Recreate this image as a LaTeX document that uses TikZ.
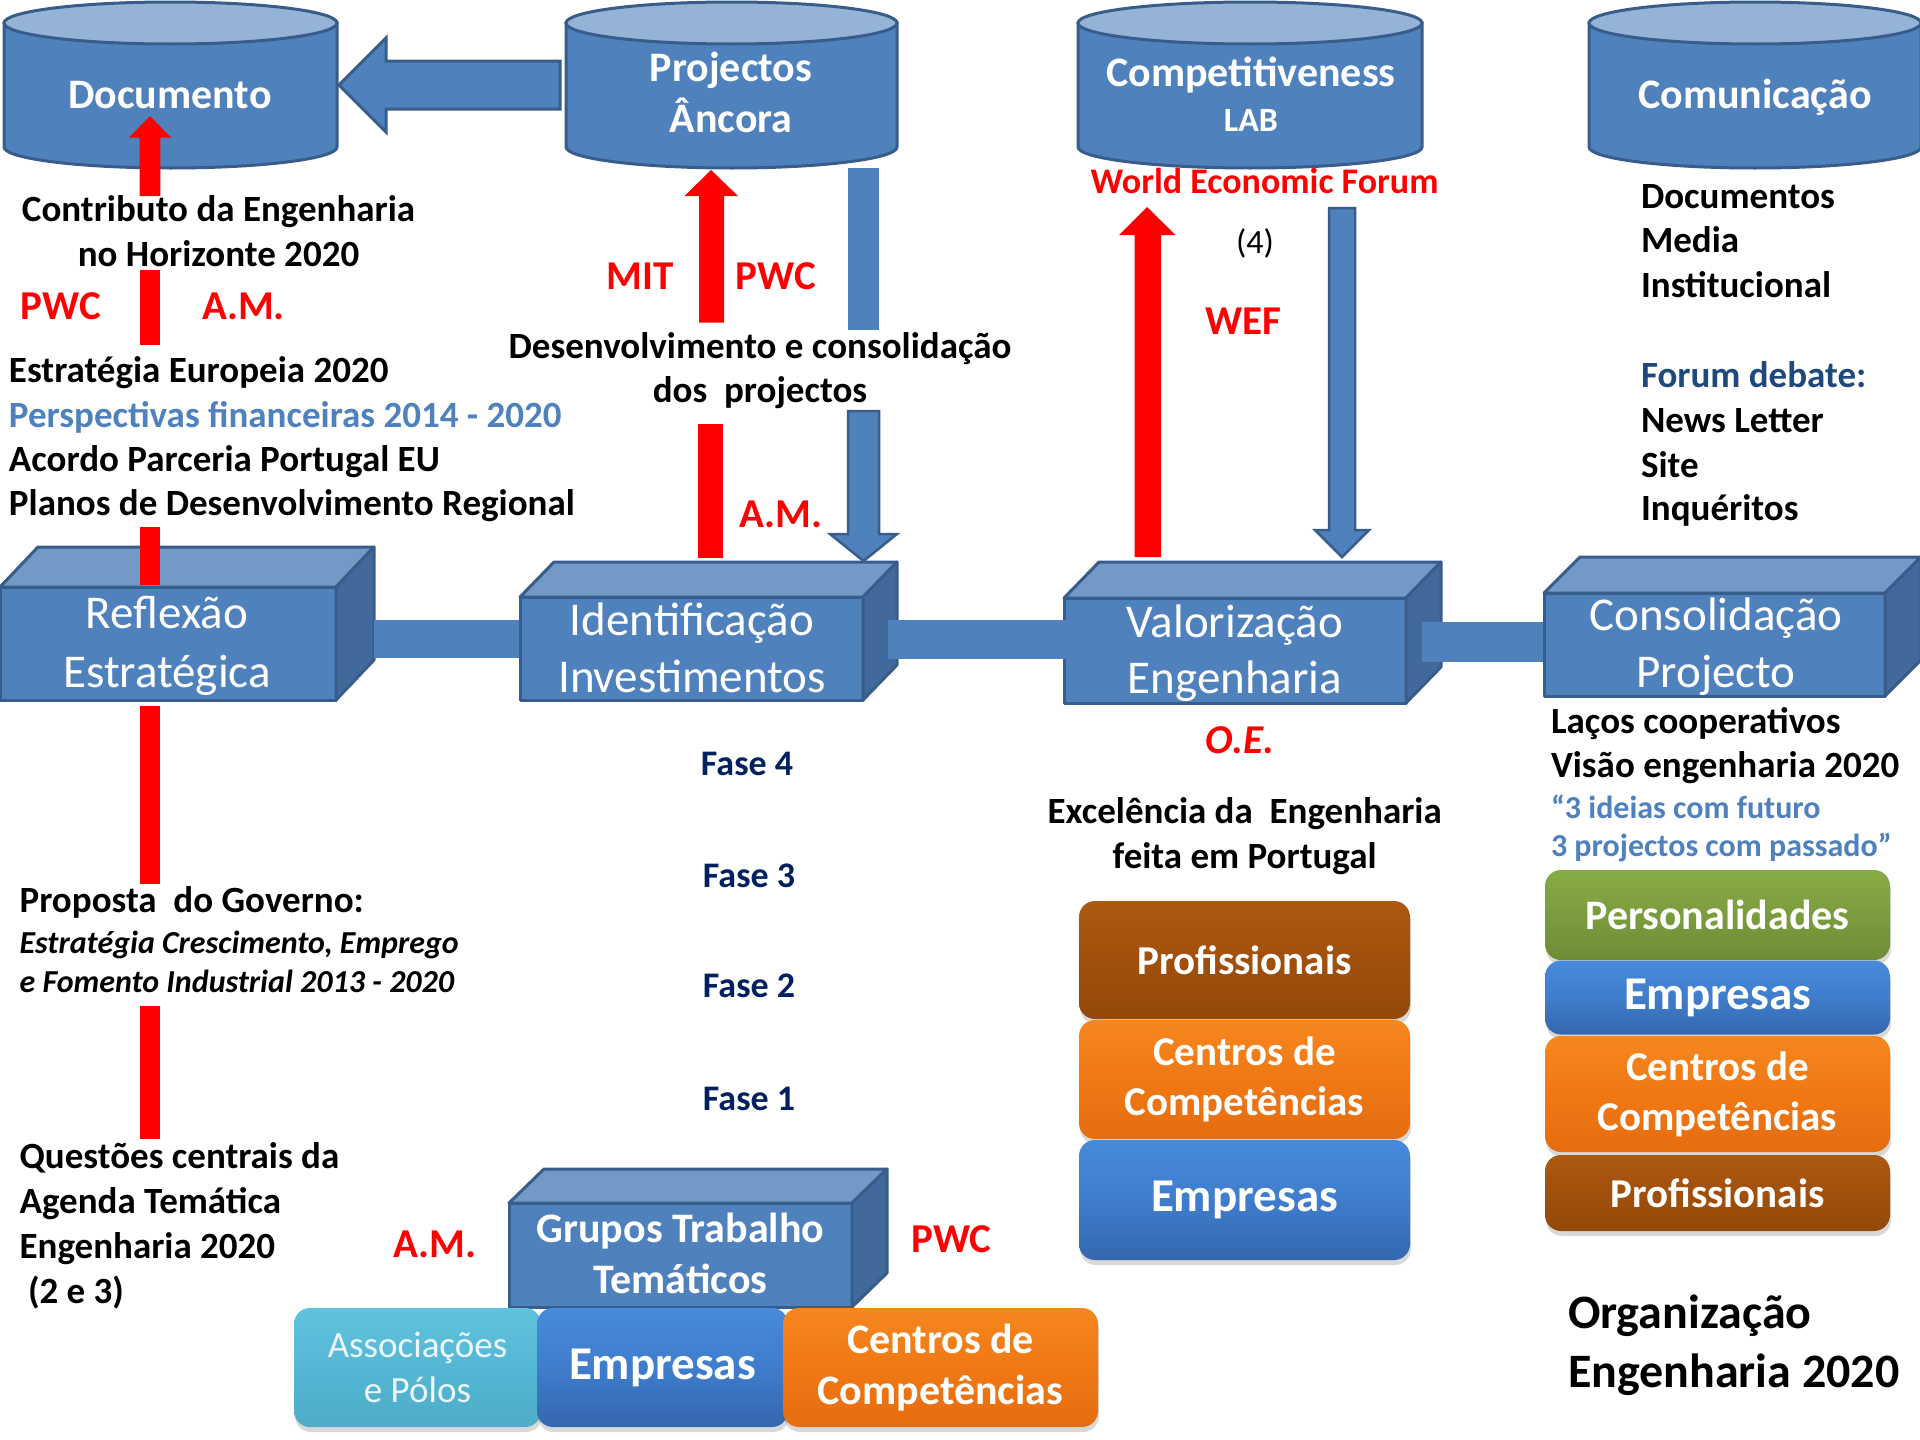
\documentclass[tikz,border=0pt]{standalone}
\usepackage{fontspec}
\setmainfont{Carlito}
\usetikzlibrary{shadows}
\definecolor{cblue}{HTML}{4F81BD}
\definecolor{cline}{HTML}{385D8A}
\definecolor{ctop}{HTML}{95B3D7}
\definecolor{btop}{HTML}{7399C6}
\definecolor{bside}{HTML}{41699C}
\definecolor{navy}{HTML}{002060}
\definecolor{fblue}{HTML}{1F497D}
\definecolor{brA}{HTML}{AC5A12}\definecolor{brB}{HTML}{A0500C}\definecolor{brC}{HTML}{94490A}
\definecolor{orA}{HTML}{F6871F}\definecolor{orB}{HTML}{F07814}\definecolor{orC}{HTML}{E66D10}
\definecolor{blA}{HTML}{478ADB}\definecolor{blB}{HTML}{3F7DCC}\definecolor{blC}{HTML}{3467AE}
\definecolor{grA}{HTML}{88AC46}\definecolor{grB}{HTML}{7B9C3E}\definecolor{grC}{HTML}{6E8C36}
\definecolor{cyA}{HTML}{60C3DE}\definecolor{cyB}{HTML}{55B7D4}\definecolor{cyC}{HTML}{4EACC8}
\newcommand\drawcyl[4]{%
  \filldraw[cylside] ({#1-#2},#3) -- ({#1-#2},#4) arc[start angle=180,end angle=360,x radius=#2pt,y radius=21pt] -- ({#1+#2},#3) -- cycle;
  \filldraw[cyltop] (#1,#3) ellipse[x radius=#2pt,y radius=21pt];}
\newcommand\drawbox[6]{%
  \filldraw[boxfront] (#1,#2) rectangle (#3,#4);
  \filldraw[boxtop] (#1,#2) -- ({#1+#5},{#2-#6}) -- ({#3+#5},{#2-#6}) -- (#3,#2) -- cycle;
  \filldraw[boxside] (#3,#2) -- ({#3+#5},{#2-#6}) -- ({#3+#5},{#4-#6}) -- (#3,#4) -- cycle;}
\begin{document}
\begin{tikzpicture}[x=1pt,y=-1pt,
  every node/.style={inner sep=0pt,outer sep=0pt},
  bt/.style={font=\fontsize{37}{45}\selectfont\bfseries},
  wl/.style={anchor=base west},
  cl/.style={anchor=base},
  rl/.style={font=\fontsize{41}{50}\selectfont\bfseries,text=red,anchor=base},
  cyltext/.style={font=\fontsize{42}{51}\selectfont\bfseries,text=white,anchor=base},
  boxtext/.style={font=\fontsize{47}{57}\selectfont,text=white,anchor=base},
  fase/.style={font=\fontsize{36}{44}\selectfont\bfseries,text=navy,anchor=base},
  cylside/.style={fill=cblue,draw=cline,line width=3pt},
  cyltop/.style={fill=ctop,draw=cline,line width=3pt},
  boxfront/.style={fill=cblue,draw=cline,line width=3pt,line join=round},
  boxtop/.style={fill=btop,draw=cline,line width=3pt,line join=round},
  boxside/.style={fill=bside,draw=cline,line width=3pt,line join=round},
  linkbar/.style={fill=cblue},
  redar/.style={fill=red},
  bluear/.style={fill=cblue,draw=cline,line width=2.5pt,line join=miter},
  glossy/.style={rectangle,rounded corners=16pt,text=white,align=center,
     drop shadow={opacity=0.3,shadow xshift=1pt,shadow yshift=-5pt}},
  gbrown/.style={top color=brA,bottom color=brC,middle color=brB},
  gorange/.style={top color=orA,bottom color=orC,middle color=orB},
  gblue/.style={top color=blA,bottom color=blC,middle color=blB},
  ggreen/.style={top color=grA,bottom color=grC,middle color=grB},
  gcyan/.style={top color=cyA,bottom color=cyC,middle color=cyB},
  f47/.style={font=\fontsize{47}{57}\selectfont\bfseries},
  f42/.style={font=\fontsize{42}{51}\selectfont\bfseries},
  f41/.style={font=\fontsize{41}{50}\selectfont\bfseries},
]
\fill[white] (0,0) rectangle (1920,1440);
\useasboundingbox (0,0) rectangle (1920,1440);

% ---------- cylinders ----------
\drawcyl{170.5}{166.5}{23}{147}
\drawcyl{731.5}{165.5}{23}{147}
\drawcyl{1250}{172}{23}{147}
\drawcyl{1755}{166}{23}{147}
\node[cyltext] (doc) at (170,108) {Documento};
\node[cyltext] (proj1) at (731,81) {Projectos};
\node[cyltext] (proj2) at (731,132) {Âncora};
\node[cyltext] (comp1) at (1251,86) {Competitiveness};
\node[cyltext,font=\fontsize{34}{41}\selectfont\bfseries] (comp2) at (1251,131) {LAB};
\node[cyltext] (comu) at (1755,108) {Comunicação};

% big arrow Projectos -> Documento
\filldraw[cblue,draw=cline,line width=3pt,line join=miter]
  (339,85) -- (386,38) -- (386,61) -- (560,61) -- (560,109) -- (386,109) -- (386,132) -- cycle;

% ---------- 3D boxes ----------
\drawbox{0}{587}{336}{700}{38}{40}
\drawbox{520}{597}{863}{700}{34}{35}
\drawbox{1064}{598}{1406}{703}{35}{36}
\drawbox{1544}{593}{1885}{696}{36}{36}
\drawbox{509}{1203}{852}{1307}{35}{34}

% link bars
\fill[linkbar] (374,620) rectangle (519,658);
\fill[linkbar] (888,620) rectangle (1092,659);
\fill[linkbar] (1422,622) rectangle (1543,662);

\node[boxtext] (refl1) at (167,628) {Reflexão};
\node[boxtext] (refl2) at (167,687) {Estratégica};
\node[boxtext] (iden1) at (692,635) {Identificação};
\node[boxtext] (iden2) at (692,692) {Investimentos};
\node[boxtext] (valo1) at (1235,637) {Valorização};
\node[boxtext] (valo2) at (1235,693) {Engenharia};
\node[boxtext] (cons1) at (1716,630) {Consolidação};
\node[boxtext] (cons2) at (1716,687) {Projecto};
\node[cyltext] (gru1) at (680.5,1242) {Grupos Trabalho};
\node[cyltext] (gru2) at (680.5,1293) {Temáticos};

% ---------- red vertical arrow on the left ----------
\fill[redar] (150,116) -- (171,137.5) -- (160.4,137.5) -- (160.4,196) -- (139.6,196) -- (139.6,137.5) -- (129,137.5) -- cycle;
\fill[redar] (139.6,270) rectangle (160.4,345);
\fill[redar] (139.6,527) rectangle (160.4,585);
\fill[redar] (139.6,706) rectangle (160.4,884);
\fill[redar] (139.6,1006) rectangle (160.4,1139);

% MIT / PWC red arrow
\fill[redar] (711,170) -- (738,196) -- (724,196) -- (724,322.5) -- (699,322.5) -- (699,196) -- (684.5,196) -- cycle;
\fill[redar] (698,424) rectangle (723,558);
% blue arrow down to Identificacao
\fill[cblue] (848,168) rectangle (879,330);
\filldraw[bluear] (848,411) -- (879,411) -- (879,534) -- (897,534) -- (863.5,561) -- (830,534) -- (848,534) -- cycle;

% WEF arrows
\fill[redar] (1147,207) -- (1175.5,235) -- (1161,235) -- (1161,557) -- (1134.5,557) -- (1134.5,235) -- (1119,235) -- cycle;
\filldraw[bluear] (1329,208) -- (1355,208) -- (1355,530) -- (1369,530) -- (1342,557) -- (1315,530) -- (1329,530) -- cycle;

% ---------- texts, left column ----------
\node[bt,cl] (contr1) at (218.5,221) {Contributo da Engenharia};
\node[bt,cl] (contr2) at (218.5,266) {no Horizonte 2020};
\node[rl] (pwc1) at (61,319) {PWC};
\node[rl] (am1) at (243.5,319) {A.M.};
\node[bt,wl] (est1) at (9,382) {Estratégia Europeia 2020};
\node[bt,wl,text=cblue] (est2) at (9,427) {Perspectivas financeiras 2014 - 2020};
\node[bt,wl] (est3) at (9,471) {Acordo Parceria Portugal EU};
\node[bt,wl] (est4) at (9,515) {Planos de Desenvolvimento Regional};

\node[bt,wl] (prop1) at (19.6,912) {Proposta~~do Governo:};
\node[wl,font=\fontsize{32}{39}\selectfont\bfseries\itshape] (prop2) at (19.6,953) {Estratégia Crescimento, Emprego};
\node[wl,font=\fontsize{32}{39}\selectfont\bfseries\itshape] (prop3) at (19.6,992) {e Fomento Industrial 2013 - 2020};

\node[bt,wl] (q1) at (19.6,1168) {Questões centrais da};
\node[bt,wl] (q2) at (19.6,1213) {Agenda Temática};
\node[bt,wl] (q3) at (19.6,1258) {Engenharia 2020};
\node[bt,wl] (q4) at (28,1303) {(2 e 3)};

\node[rl] (am3) at (435,1257) {A.M.};
\node[rl] (pwc3) at (951.6,1252) {PWC};

% ---------- middle texts ----------
\node[rl] (mit) at (640,289) {MIT};
\node[rl] (pwc2) at (776,289) {PWC};
\node[bt,cl] (des1) at (760,358) {Desenvolvimento e consolidação};
\node[bt,cl] (des2) at (760,402) {dos~~projectos};
\node[rl] (am2) at (781,527) {A.M.};

\node[fase] (f4) at (747,775) {Fase 4};
\node[fase] (f3) at (749,887) {Fase 3};
\node[fase] (f2) at (749,997) {Fase 2};
\node[fase] (f1) at (749,1110) {Fase 1};

\node[cl,font=\fontsize{36}{44}\selectfont\bfseries,text=red] (wef1) at (1264.6,193) {World Economic Forum};
\node[cl,font=\fontsize{34}{41}\selectfont] (four) at (1255,253.6) {(4)};
\node[rl] (wef2) at (1243,334) {WEF};

\node[rl,font=\fontsize{41}{50}\selectfont\bfseries\itshape] (oe) at (1240,753) {O.E.};
\node[bt,cl] (exc1) at (1244.7,823) {Excelência da~~Engenharia};
\node[bt,cl] (exc2) at (1244.7,868) {feita em Portugal};

% ---------- right column ----------
\node[bt,wl] (r1) at (1641,208) {Documentos};
\node[bt,wl] (r2) at (1641,252.5) {Media};
\node[bt,wl] (r3) at (1641,297) {Institucional};
\node[bt,wl,text=fblue] (r4) at (1641,387.5) {Forum debate:};
\node[bt,wl] (r5) at (1641,432) {News Letter};
\node[bt,wl] (r6) at (1641,477) {Site};
\node[bt,wl] (r7) at (1641,520) {Inquéritos};

\node[bt,wl] (l1) at (1551,733.3) {Laços cooperativos};
\node[bt,wl] (l2) at (1551,777) {Visão engenharia 2020};
\node[wl,font=\fontsize{32}{39}\selectfont\bfseries,text=cblue] (l3) at (1551,818) {“3 ideias com futuro};
\node[wl,font=\fontsize{32}{39}\selectfont\bfseries,text=cblue] (l4) at (1551,856) {3 projectos com passado”};

\node[wl,font=\fontsize{48}{58}\selectfont\bfseries] (org1) at (1568,1328) {Organização};
\node[wl,font=\fontsize{48}{58}\selectfont\bfseries] (org2) at (1568,1387) {Engenharia 2020};

% ---------- glossy boxes: left stack ----------
\node[glossy,gbrown,f41,minimum width=331pt,minimum height=118pt] (sprof) at (1244.5,960) {Profissionais};
\node[glossy,gorange,f41,minimum width=331pt,minimum height=119pt] (scent) at (1244.5,1079.5) {Centros de\\Competências};
\node[glossy,gblue,f47,minimum width=331pt,minimum height=120pt] (semp) at (1244.5,1200) {Empresas};

% right stack
\node[glossy,ggreen,f42,minimum width=345pt,minimum height=90pt] (rpers) at (1717.5,915) {Personalidades};
\node[glossy,gblue,f47,minimum width=345pt,minimum height=74pt] (remp) at (1717.5,997.5) {Empresas};
\node[glossy,gorange,f41,minimum width=345pt,minimum height=116pt] (rcent) at (1717.5,1094) {Centros de\\Competências};
\node[glossy,gbrown,f41,minimum width=345pt,minimum height=76pt] (rprof) at (1717.5,1193) {Profissionais};

% bottom row
\node[glossy,gcyan,font=\fontsize{37}{45}\selectfont,text=white!92!cyan,minimum width=247pt,minimum height=119pt] (bass) at (417.5,1367.5) {Associações\\e Pólos};
\node[glossy,gblue,f47,minimum width=251pt,minimum height=119pt] (bemp) at (662.5,1367.5) {Empresas};
\node[glossy,gorange,f42,minimum width=315pt,minimum height=119pt] (bcent) at (940.5,1367.5) {Centros de\\Competências};
\end{tikzpicture}
\end{document}
